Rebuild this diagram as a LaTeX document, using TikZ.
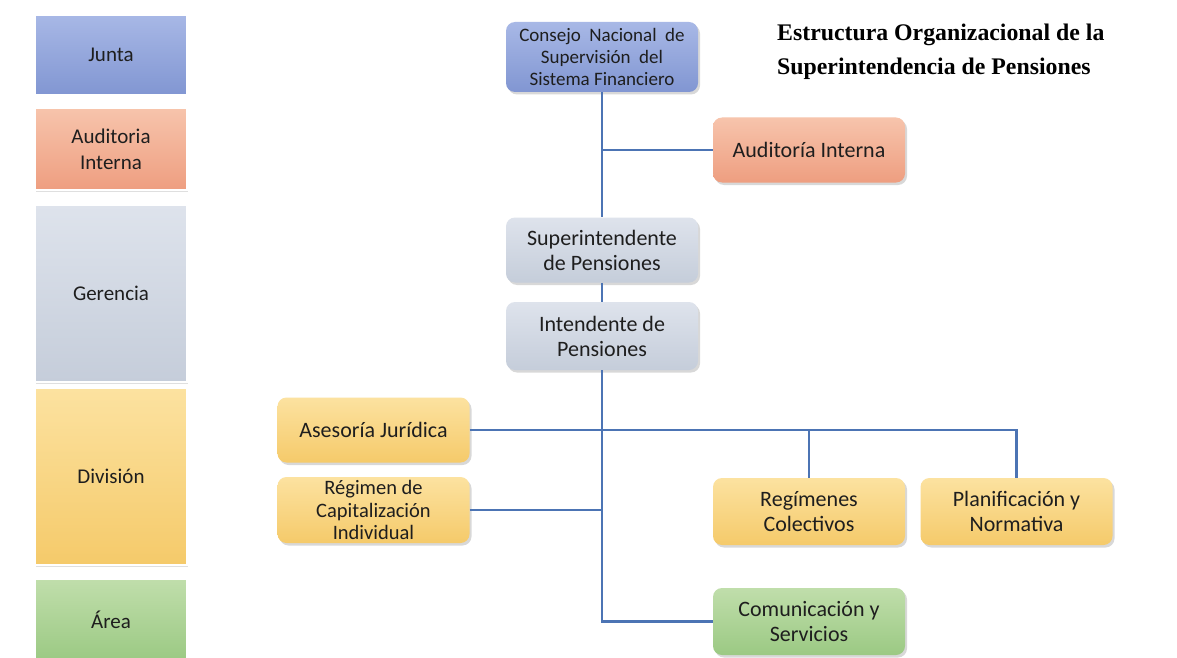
\documentclass[tikz,border=0pt]{standalone}
\usepackage{fontspec}
\setmainfont{Carlito}
\newfontfamily\titlefont{Liberation Serif}
\usetikzlibrary{shadows}
\definecolor{bluetop}{HTML}{A8B8E6}
\definecolor{bluebot}{HTML}{8196D2}
\definecolor{saltop}{HTML}{F7C4AC}
\definecolor{salbot}{HTML}{EE9E80}
\definecolor{graytop}{HTML}{DEE3EC}
\definecolor{graybot}{HTML}{C5CDDA}
\definecolor{goldtop}{HTML}{FCE2A0}
\definecolor{goldbot}{HTML}{F5CA6A}
\definecolor{greentop}{HTML}{C0DEAB}
\definecolor{greenbot}{HTML}{9BC983}
\definecolor{linkblue}{HTML}{4C74B4}
\definecolor{txt}{HTML}{1E1E1E}
\tikzset{
  legendbox/.style={rectangle, inner sep=0pt, minimum width=152pt, align=center,
    draw=white, line width=2.5pt, text=txt, font=\fontsize{21}{26}\selectfont,
    drop shadow={opacity=0.25, shadow xshift=1pt, shadow yshift=-1.5pt}},
  orgbox/.style={rectangle, rounded corners=9pt, inner sep=0pt, minimum width=192pt,
    minimum height=66pt, align=center, text=txt, font=\fontsize{22}{25}\selectfont,
    drop shadow={opacity=0.3, shadow xshift=2pt, shadow yshift=-2.5pt}},
  bluefill/.style={top color=bluetop, bottom color=bluebot},
  salfill/.style={top color=saltop, bottom color=salbot},
  grayfill/.style={top color=graytop, bottom color=graybot},
  goldfill/.style={top color=goldtop, bottom color=goldbot},
  greenfill/.style={top color=greentop, bottom color=greenbot},
  link/.style={draw=linkblue, line width=2.6pt}
}
\begin{document}
\begin{tikzpicture}[x=1pt,y=-1pt]
\fill[white] (0,0) rectangle (1177,658);
\useasboundingbox (0,0) rectangle (1177,658);

% legend
\node[legendbox, bluefill, minimum height=81pt] (lj) at (111,55) {Junta};
\node[legendbox, salfill, minimum height=82pt] (la) at (111,149) {Auditoria\\Interna};
\node[legendbox, grayfill, minimum height=177pt] (lg) at (111,293.5) {Gerencia};
\node[legendbox, goldfill, minimum height=177pt] (ld) at (111,476.5) {División};
\node[legendbox, greenfill, minimum height=82pt] (lr) at (111,620) {Área};

% title
\node[anchor=north west, align=left, font=\titlefont\bfseries\fontsize{23.8}{34}\selectfont, text=black, inner sep=0pt] (title) at (777,24)
  {Estructura Organizacional de la\\Superintendencia de Pensiones};

% chart boxes
\node[orgbox, bluefill, minimum height=70pt, font=\fontsize{19}{22}\selectfont] (cns) at (602,57)
  {Consejo\ \ Nacional\ \ de\\Supervisión\ \ del\\Sistema Financiero};
\node[orgbox, salfill, minimum height=65pt] (aud) at (809,150) {Auditoría Interna};
\node[orgbox, grayfill, minimum height=65pt] (sup) at (602,250) {Superintendente\\de Pensiones};
\node[orgbox, grayfill, minimum height=68pt] (int) at (602,336) {Intendente de\\Pensiones};
\node[orgbox, goldfill, minimum height=65pt] (ase) at (373.5,430) {Asesoría Jurídica};
\node[orgbox, goldfill, minimum height=66pt, font=\fontsize{20.5}{22.5}\selectfont] (rci) at (373.5,510) {Régimen de\\Capitalización\\Individual};
\node[orgbox, goldfill, minimum height=67pt] (reg) at (809,511.5) {Regímenes\\Colectivos};
\node[orgbox, goldfill, minimum height=67pt] (pla) at (1016.5,511.5) {Planificación y\\Normativa};
\node[orgbox, greenfill, minimum height=67pt] (com) at (809,621.5) {Comunicación y\\Servicios};

% connectors
\draw[link] (cns.south) -- (sup.north);
\draw[link] (aud.west) -- (aud.west -| cns.south);
\draw[link] (sup.south) -- (int.north);
\draw[link] (int.south) |- (com.west);
\draw[link] (ase.east) -- (ase.east -| pla.north) -- (pla.north);
\draw[link] (ase.east -| reg.north) -- (reg.north);
\draw[link] (rci.east) -- (rci.east -| int.south);
\end{tikzpicture}
\end{document}
